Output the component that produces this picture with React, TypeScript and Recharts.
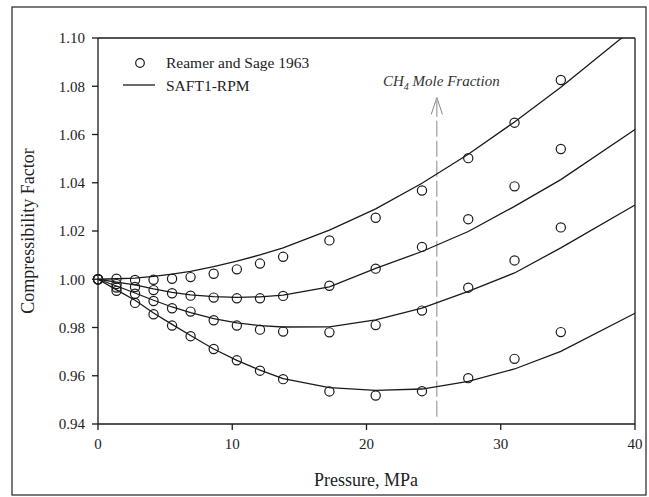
import { ComposedChart, Line, Scatter, XAxis, YAxis, ReferenceLine } from "recharts"

// experimental pressures (MPa), Reamer and Sage 1963
const pressure = [0, 1.379, 2.758, 4.137, 5.516, 6.895, 8.618, 10.342, 12.066, 13.79, 17.237, 20.684, 24.132, 27.579, 31.026, 34.474]

const expA = [1.0, 1.0002, 0.9997, 0.9998, 1.0002, 1.0009, 1.0023, 1.0041, 1.0065, 1.0093, 1.0161, 1.0255, 1.0368, 1.0502, 1.0649, 1.0826]
const expB = [1.0, 0.998, 0.9968, 0.9955, 0.9942, 0.9932, 0.9924, 0.9921, 0.9921, 0.9931, 0.9973, 1.0044, 1.0134, 1.0249, 1.0385, 1.054]
const expC = [1.0, 0.9966, 0.994, 0.991, 0.988, 0.9866, 0.983, 0.9808, 0.9791, 0.9783, 0.978, 0.981, 0.987, 0.9965, 1.0078, 1.0215]
const expD = [1.0, 0.9952, 0.9902, 0.9855, 0.9808, 0.9764, 0.9711, 0.9664, 0.9621, 0.9586, 0.9535, 0.9518, 0.9536, 0.959, 0.967, 0.9781]

// SAFT1-RPM curves
const modelPressure = [0, 1.379, 2.758, 4.137, 5.516, 6.895, 8.618, 10.342, 12.066, 13.79, 17.237, 20.684, 24.132, 27.579, 31.026, 34.474, 40]
const modelA = [1.0, 1.0002, 1.0005, 1.0012, 1.0021, 1.0033, 1.0052, 1.0075, 1.0101, 1.013, 1.0204, 1.0292, 1.0398, 1.0518, 1.0652, 1.0796, 1.1045]
const modelB = [1.0, 0.9988, 0.9977, 0.996, 0.9946, 0.9935, 0.9928, 0.9925, 0.9927, 0.9934, 0.9968, 1.0045, 1.0115, 1.0198, 1.0302, 1.0413, 1.0621]
const modelC = [1.0, 0.9972, 0.9943, 0.9913, 0.9885, 0.9862, 0.9837, 0.9819, 0.9808, 0.9802, 0.9803, 0.9832, 0.988, 0.995, 1.0026, 1.013, 1.0308]
const modelD = [1.0, 0.9956, 0.9913, 0.986, 0.9813, 0.9767, 0.9711, 0.9664, 0.9623, 0.9588, 0.9551, 0.9539, 0.9545, 0.9577, 0.9628, 0.9701, 0.9859]

// ticks
const xMajor = [0, 10, 20, 30, 40]
const xMinor = [2, 4, 6, 8, 12, 14, 16, 18, 22, 24, 26, 28, 32, 34, 36, 38]
const xAll = [0, 2, 4, 6, 8, 10, 12, 14, 16, 18, 20, 22, 24, 26, 28, 30, 32, 34, 36, 38, 40]
const yMajor = [0.94, 0.96, 0.98, 1.0, 1.02, 1.04, 1.06, 1.08, 1.1]
const yMinor = [0.95, 0.97, 0.99, 1.01, 1.03, 1.05, 1.07, 1.09]
const yAll = [0.94, 0.95, 0.96, 0.97, 0.98, 0.99, 1.0, 1.01, 1.02, 1.03, 1.04, 1.05, 1.06, 1.07, 1.08, 1.09, 1.1]

// CH4 mole fraction arrow (pressure, Z)
const arrowP = 25.24
const arrowTop = 1.0753
const arrowBottom = 0.943

const rows = (xs: number[], ys: number[]) => xs.map((p, i) => ({ p, z: ys[i] }))

const FONT = '"Liberation Serif", "Times New Roman", serif'
const INK = "#1a1a1a"
const X_DOMAIN: [number, number] = [0, 40]
const Y_DOMAIN: [number, number] = [0.94, 1.1]

const NoLabel = () => <g />

const Circle = (props: any) => (
  <circle cx={props.cx} cy={props.cy} r={4.6} fill="none" stroke={INK} strokeWidth={1.2} />
)

const expSeries = [expA, expB, expC, expD]
const modelSeries = [modelA, modelB, modelC, modelD]

export default function App() {
  const tickStyle = { fill: "#222", fontSize: 15, fontFamily: FONT }
  const lineStyle = { stroke: INK, strokeWidth: 1.3 }
  return (
    <div style={{ position: "absolute", left: 0, top: 0, width: 649, height: 497, background: "#fff" }}>
      <ComposedChart width={649} height={497} margin={{ top: 38, right: 14, bottom: 43, left: 38 }}>
        <XAxis xAxisId="main" dataKey="p" type="number" domain={X_DOMAIN} ticks={xMajor} interval={0}
          tickSize={6} tickMargin={8} tick={tickStyle} axisLine={lineStyle} tickLine={lineStyle} height={30} />
        <XAxis xAxisId="minor" type="number" domain={X_DOMAIN} ticks={xMinor} interval={0} mirror
          tickSize={4} tick={NoLabel} axisLine={false} tickLine={lineStyle} />
        <XAxis xAxisId="top" orientation="top" type="number" domain={X_DOMAIN} ticks={xAll} interval={0} mirror
          tickSize={4} tick={NoLabel} axisLine={lineStyle} tickLine={lineStyle} />
        <YAxis yAxisId="main" dataKey="z" type="number" domain={Y_DOMAIN} allowDataOverflow ticks={yMajor} interval={0}
          tickSize={6} tickMargin={7} width={60} tick={tickStyle} tickFormatter={(v: number) => v.toFixed(2)}
          axisLine={lineStyle} tickLine={lineStyle} />
        <YAxis yAxisId="minor" type="number" domain={Y_DOMAIN} ticks={yMinor} interval={0} mirror
          tickSize={4} tick={NoLabel} axisLine={false} tickLine={lineStyle} />
        <YAxis yAxisId="right" orientation="right" type="number" domain={Y_DOMAIN} ticks={yAll} interval={0} mirror
          tickSize={4} tick={NoLabel} axisLine={lineStyle} tickLine={lineStyle} />

        <ReferenceLine xAxisId="main" yAxisId="main"
          segment={[{ x: arrowP, y: arrowBottom }, { x: arrowP, y: arrowTop }]}
          stroke="#888" strokeWidth={1} strokeDasharray="16 4" />
        <ReferenceLine xAxisId="main" yAxisId="main"
          segment={[{ x: arrowP - 0.42, y: arrowTop - 0.007 }, { x: arrowP, y: arrowTop }]}
          stroke="#888" strokeWidth={1} />
        <ReferenceLine xAxisId="main" yAxisId="main"
          segment={[{ x: arrowP + 0.42, y: arrowTop - 0.007 }, { x: arrowP, y: arrowTop }]}
          stroke="#888" strokeWidth={1} />

        {modelSeries.map((ys, i) => (
          <Line key={"m" + i} xAxisId="main" yAxisId="main" data={rows(modelPressure, ys)} dataKey="z"
            type="linear" stroke={INK} strokeWidth={1.3} dot={false} activeDot={false} isAnimationActive={false} />
        ))}
        {expSeries.map((ys, i) => (
          <Scatter key={"e" + i} xAxisId="main" yAxisId="main" data={rows(pressure, ys)} dataKey="z"
            shape={Circle} isAnimationActive={false} />
        ))}
      </ComposedChart>

      <svg width={649} height={497} style={{ position: "absolute", left: 0, top: 0, pointerEvents: "none" }}
        fontFamily={FONT} fill="#222">
        <rect x={12} y={7} width={634} height={488} fill="none" stroke="#333" strokeWidth={1.3} />
        <text x={366} y={486} fontSize={18} textAnchor="middle">Pressure, MPa</text>
        <text x={34} y={231} fontSize={18} textAnchor="middle" transform="rotate(-90 34 231)">Compressibility Factor</text>

        <circle cx={140} cy={63} r={4.3} fill="none" stroke={INK} strokeWidth={1.2} />
        <text x={166} y={68} fontSize={15.5}>Reamer and Sage 1963</text>
        <line x1={123} y1={85} x2={155} y2={85} stroke={INK} strokeWidth={1.3} />
        <text x={166} y={91} fontSize={15.5}>SAFT1-RPM</text>

        <text x={383} y={86} fontSize={15} fontStyle="italic" fill="#333">
          CH<tspan fontSize={10} dy={4}>4</tspan><tspan dy={-4}> Mole Fraction</tspan>
        </text>
      </svg>
    </div>
  )
}
